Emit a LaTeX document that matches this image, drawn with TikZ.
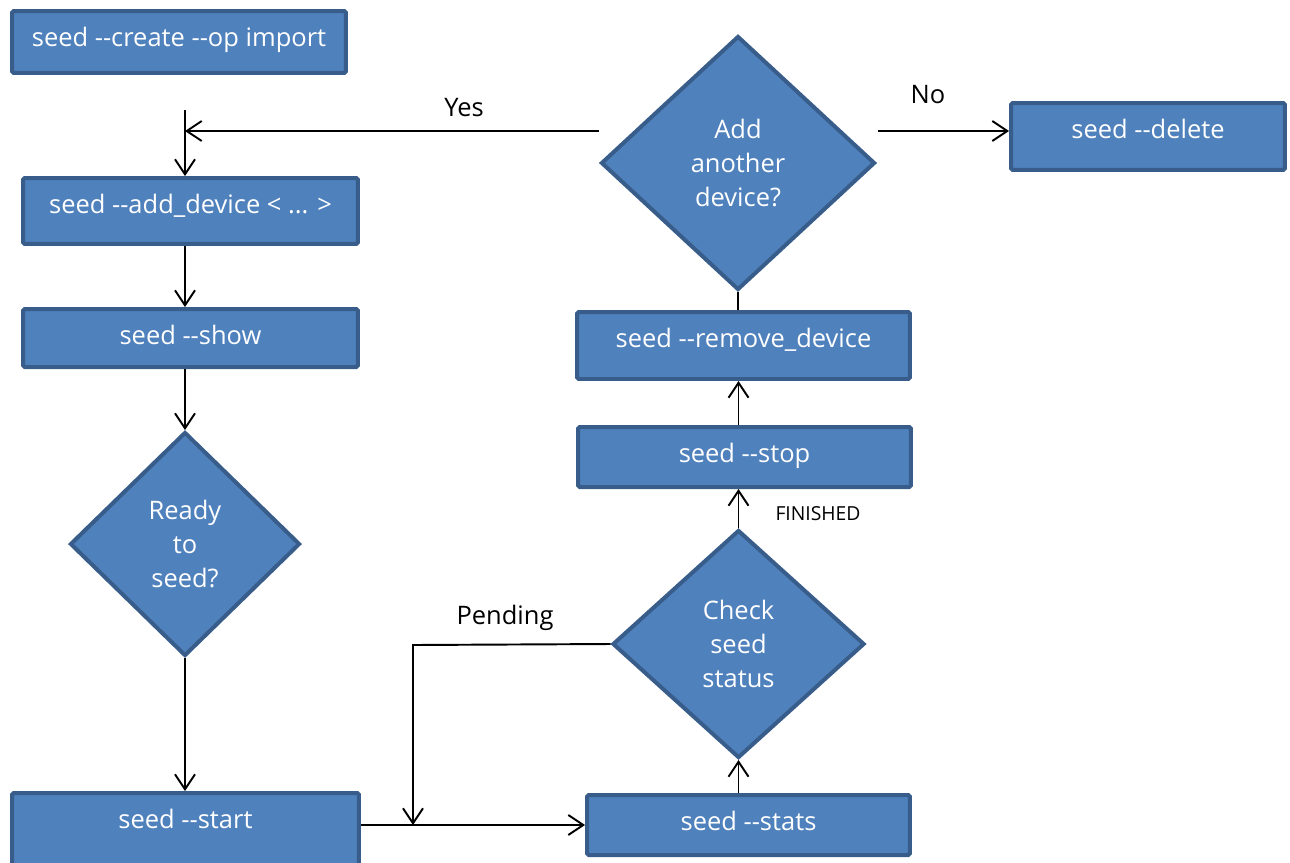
\documentclass[tikz,border=0pt]{standalone}
\usepackage{fontspec}
\setmainfont{Open Sans}
\usetikzlibrary{shapes.geometric,arrows.meta}

\definecolor{boxfill}{HTML}{4F81BD}
\definecolor{boxline}{HTML}{385D8A}

\begin{document}
\begin{tikzpicture}[x=0.02cm,y=-0.02cm,
    box/.style={rectangle,draw=boxline,fill=boxfill,line width=0.08cm,rounded corners=1pt,
        inner sep=0pt,text=white,text height=0.70cm,
        font=\fontsize{14.5pt}{19pt}\selectfont},
    decision/.style={diamond,draw=boxline,fill=boxfill,line width=0.08cm,inner sep=0pt,
        text=white,align=center,font=\fontsize{14.5pt}{19.5pt}\selectfont},
    arr/.style={-{Straight Barb[length=0.3cm,width=0.4cm]},line width=1.1pt},
    lbl/.style={font=\fontsize{14.5pt}{19pt}\selectfont}]
            \useasboundingbox (0,0) rectangle (1290,862);
            % boxes
            \node[box,minimum width=6.68cm,text depth=0.54cm] (create) at (179,42) {seed -{}-create -{}-op import};
            \node[box,minimum width=6.70cm,text depth=0.62cm] (add) at (190.5,211) {seed -{}-add\_device < ... >};
            \node[box,minimum width=6.70cm,text depth=0.46cm] (show) at (190.5,338) {seed -{}-show};
            \node[box,minimum width=6.94cm,text depth=0.82cm] (start) at (185.5,831) {seed -{}-start};
            \node[box,minimum width=6.46cm,text depth=0.50cm] (stats) at (748.5,825) {seed -{}-stats};
            \node[box,minimum width=6.66cm,text depth=0.50cm] (stop) at (744.5,457) {seed -{}-stop};
            \node[box,minimum width=6.66cm,text depth=0.64cm] (remove) at (743.5,345.5) {seed -{}-remove\_device};
            \node[box,minimum width=5.48cm,text depth=0.64cm] (delete) at (1148,136.5) {seed -{}-delete};
            % decisions
            \node[decision,minimum width=4.60cm,minimum height=4.48cm] (ready) at (185,544) {Ready\\to\\seed?};
            \node[decision,minimum width=5.04cm,minimum height=4.56cm] (check) at (738.5,644) {Check\\seed\\status};
            \node[decision,minimum width=5.48cm,minimum height=5.08cm] (another) at (738,163) {Add\\another\\device?};
            % free ends
            \coordinate (join) at (185,110);
            \coordinate (yes) at (599,131);
            \coordinate (no) at (878,131);
            \coordinate (pend) at (413,645);
            % connectors
            \draw[arr] (yes) -- (yes -| join);
            \draw[arr] (join) -- (join |- add.north);
            \draw[arr] (no) -- (no -| delete.west);
            \draw[arr] (add.south -| join) -- (show.north -| join);
            \draw[arr] (show.south -| ready.north) -- (ready.north);
            \draw[arr] (ready.south) -- (ready.south |- start.north);
            \draw[arr] (start.east |- stats.west) -- (stats.west);
            \draw[arr] (check.west) -- (pend) -- (pend |- stats.west);
            \draw[arr] (stats.north -| check.south) -- (check.south);
            \draw[arr] (check.north) -- (check.north |- stop.south);
            \draw[arr] (stop.north -| check.north) -- (remove.south -| check.north);
            \draw[line width=1.1pt] (remove.north -| another.south) -- (another.south);
            % labels
            \node[lbl] (yeslbl) at (464,108) {Yes};
            \node[lbl] (nolbl) at (928,95) {No};
            \node[lbl] (pendlbl) at (505,618) {Pending};
            \node[font=\fontsize{11pt}{13pt}\selectfont] (finlbl) at (818,514) {FINISHED};
        \end{tikzpicture}
\end{document}
